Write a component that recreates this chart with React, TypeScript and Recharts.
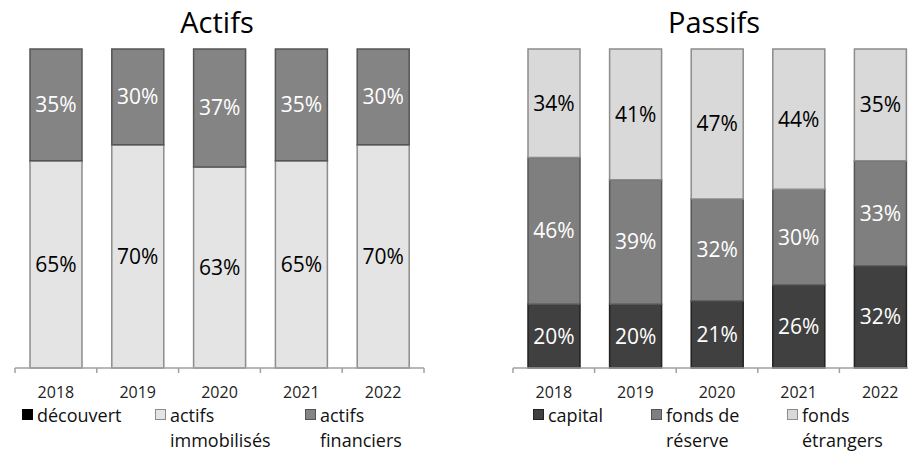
import React from "react";
import { BarChart, Bar, XAxis, YAxis, LabelList } from "recharts";

const years = ["2018", "2019", "2020", "2021", "2022"];
const actifsImmobilises = [65, 70, 63, 65, 70];
const actifsFinanciers = [35, 30, 37, 35, 30];
const passifsCapital = [20, 20, 21, 26, 32];
const passifsReserve = [46, 39, 32, 30, 33];
const passifsEtrangers = [34, 41, 47, 44, 35];

const actifsLegend = [
  { name: "découvert", color: "#000000", border: "#000000" },
  { name: "actifs immobilisés", color: "#e4e4e4", border: "#8c8c8c" },
  { name: "actifs financiers", color: "#848484", border: "#555555" },
];
const passifsLegend = [
  { name: "capital", color: "#404040", border: "#222222" },
  { name: "fonds de réserve", color: "#7f7f7f", border: "#555555" },
  { name: "fonds étrangers", color: "#d9d9d9", border: "#8c8c8c" },
];

const FONT = "'Open Sans', 'Noto Sans', sans-serif";
const H = 451;
const TOP = 49;
const AXIS_Y = 368;
const AXIS_H = 40;

const actifsData = years.map((year, i) => ({
  year,
  imm: actifsImmobilises[i],
  fin: actifsFinanciers[i],
}));
const passifsData = years.map((year, i) => ({
  year,
  cap: passifsCapital[i],
  res: passifsReserve[i],
  etr: passifsEtrangers[i],
}));

const pct = (v: any) => `${v}%`;

function makeTick(half: number, last: string) {
  return function YearTick(props: any) {
    const { x, y, payload } = props;
    return (
      <g>
        <line x1={x - half} x2={x - half} y1={y} y2={y + 5} stroke="#a0a0a0" strokeWidth={1.5} />
        {payload.value === last && (
          <line x1={x + half} x2={x + half} y1={y} y2={y + 5} stroke="#a0a0a0" strokeWidth={1.5} />
        )}
        <text x={x} y={y + 30} textAnchor="middle" fontSize={16} fontFamily={FONT} fill="#222">
          {payload.value}
        </text>
      </g>
    );
  };
}

function LegendBlock({ items, left, widths }: { items: typeof actifsLegend; left: number; widths: number[] }) {
  return (
    <div style={{ position: "absolute", left, top: 403, display: "flex", fontFamily: FONT, fontSize: 18, lineHeight: "25px", color: "#111" }}>
      {items.map((it, i) => (
        <div key={it.name} style={{ width: widths[i], display: "flex", alignItems: "flex-start" }}>
          <span style={{ display: "inline-block", width: 11, height: 11, background: it.color, border: `1.5px solid ${it.border}`, boxSizing: "border-box", marginTop: 6, marginRight: 4, flex: "none" }} />
          <span style={{ width: widths[i] - 40 }}>{it.name}</span>
        </div>
      ))}
    </div>
  );
}

export default function App() {
  const leftW = 454;
  const leftMargin = { top: TOP, right: 30, bottom: H - AXIS_Y - AXIS_H, left: 15 };
  const leftHalf = (leftW - leftMargin.left - leftMargin.right) / years.length / 2;

  const rightW = 480;
  const rightMargin = { top: TOP, right: 13, bottom: H - AXIS_Y - AXIS_H, left: 59 };
  const rightHalf = (rightW - rightMargin.left - rightMargin.right) / years.length / 2;

  const titleStyle: React.CSSProperties = {
    position: "absolute",
    top: 7,
    fontFamily: FONT,
    fontSize: 29,
    lineHeight: "29px",
    color: "#000",
    textAlign: "center",
    width: 300,
  };

  return (
    <div style={{ position: "absolute", left: 0, top: 0, width: 908, height: H, background: "#fff", overflow: "hidden" }}>
      <div style={{ position: "absolute", left: 0, top: 0, width: leftW, height: H }}>
        <BarChart width={leftW} height={H} data={actifsData} margin={leftMargin}>
          <XAxis
            dataKey="year"
            height={AXIS_H}
            tickSize={0}
            tickMargin={0}
            stroke="#a0a0a0"
            axisLine={{ stroke: "#a0a0a0", strokeWidth: 1.5 }}
            tick={makeTick(leftHalf, years[years.length - 1])}
            interval={0}
          />
          <YAxis hide domain={[0, 100]} />
          <Bar dataKey="imm" stackId="a" barSize={52} fill="#e4e4e4" stroke="#8c8c8c" strokeWidth={1.5} isAnimationActive={false}>
            <LabelList dataKey="imm" position="center" formatter={pct} fill="#000" fontSize={21} fontFamily={FONT} />
          </Bar>
          <Bar dataKey="fin" stackId="a" barSize={52} fill="#848484" stroke="#555555" strokeWidth={1.5} isAnimationActive={false}>
            <LabelList dataKey="fin" position="center" formatter={pct} fill="#fff" fontSize={21} fontFamily={FONT} />
          </Bar>
        </BarChart>
      </div>
      <div style={{ ...titleStyle, left: 217 - 150 }}>Actifs</div>
      <LegendBlock items={actifsLegend} left={22} widths={[133, 150, 130]} />

      <div style={{ position: "absolute", left: 454, top: 0, width: 454, height: H, overflow: "hidden" }}>
        <BarChart width={rightW} height={H} data={passifsData} margin={rightMargin}>
          <XAxis
            dataKey="year"
            height={AXIS_H}
            tickSize={0}
            tickMargin={0}
            stroke="#a0a0a0"
            axisLine={{ stroke: "#a0a0a0", strokeWidth: 1.5 }}
            tick={makeTick(rightHalf, years[years.length - 1])}
            interval={0}
          />
          <YAxis hide domain={[0, 100]} />
          <Bar dataKey="cap" stackId="p" barSize={52} fill="#404040" stroke="#222222" strokeWidth={1.5} isAnimationActive={false}>
            <LabelList dataKey="cap" position="center" formatter={pct} fill="#fff" fontSize={21} fontFamily={FONT} />
          </Bar>
          <Bar dataKey="res" stackId="p" barSize={52} fill="#7f7f7f" stroke="#555555" strokeWidth={1.5} isAnimationActive={false}>
            <LabelList dataKey="res" position="center" formatter={pct} fill="#fff" fontSize={21} fontFamily={FONT} />
          </Bar>
          <Bar dataKey="etr" stackId="p" barSize={52} fill="#d9d9d9" stroke="#8c8c8c" strokeWidth={1.5} isAnimationActive={false}>
            <LabelList dataKey="etr" position="center" formatter={pct} fill="#000" fontSize={21} fontFamily={FONT} />
          </Bar>
        </BarChart>
      </div>
      <div style={{ ...titleStyle, left: 714 - 150 }}>Passifs</div>
      <LegendBlock items={passifsLegend} left={533} widths={[118, 136, 130]} />
    </div>
  );
}
